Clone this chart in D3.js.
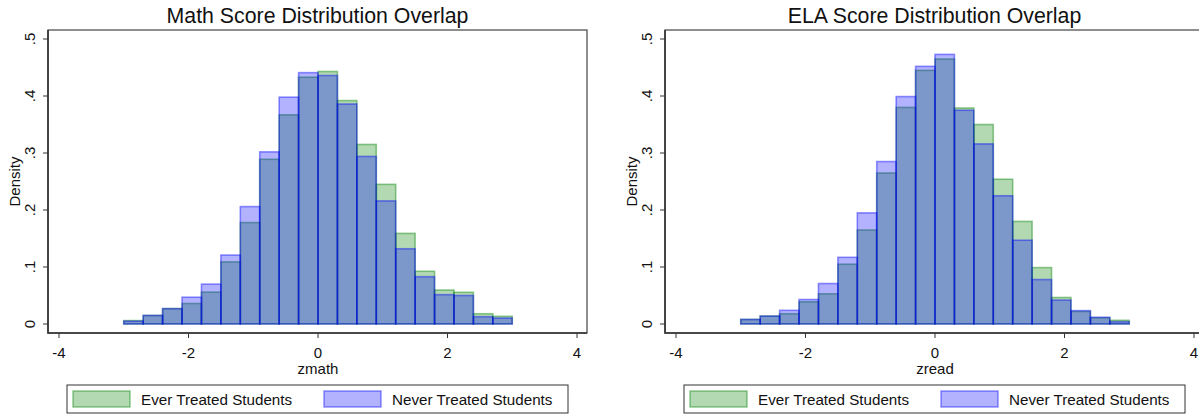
<!DOCTYPE html>
<html>
<head>
<meta charset="utf-8">
<script src="https://cdn.jsdelivr.net/npm/d3@7"></script>
<style>
  html, body { margin: 0; padding: 0; background: #fff; }
  svg { display: block; font-family: 'Liberation Sans', Arial, sans-serif; }
</style>
</head>
<body>
<svg id="chart" width="1199" height="416"></svg>
<script>
// bin lower edges (width 0.3), shared by both panels
const binLo = [-3, -2.7, -2.4, -2.1, -1.8, -1.5, -1.2, -0.9, -0.6, -0.3,
  0, 0.3, 0.6, 0.9, 1.2, 1.5, 1.8, 2.1, 2.4, 2.7]
const binWidth = 0.3

const mathEver = [0.006, 0.015, 0.027, 0.036, 0.056, 0.109, 0.178, 0.289, 0.367, 0.433,
  0.443, 0.392, 0.315, 0.245, 0.159, 0.0925, 0.0596, 0.0556, 0.018, 0.0135]
const mathNever = [0.005, 0.015, 0.027, 0.047, 0.070, 0.121, 0.206, 0.302, 0.398, 0.441,
  0.436, 0.386, 0.294, 0.216, 0.132, 0.083, 0.0515, 0.050, 0.0128, 0.0105]

const readEver = [0.008, 0.014, 0.018, 0.039, 0.053, 0.105, 0.165, 0.265, 0.380, 0.445,
  0.465, 0.379, 0.350, 0.254, 0.180, 0.099, 0.0465, 0.022, 0.011, 0.0065]
const readNever = [0.008, 0.014, 0.024, 0.043, 0.071, 0.117, 0.195, 0.285, 0.399, 0.452,
  0.473, 0.375, 0.316, 0.225, 0.147, 0.078, 0.042, 0.0235, 0.0118, 0.004]

const xTicks = [-4, -2, 0, 2, 4]
const yTicks = [0, 0.1, 0.2, 0.3, 0.4, 0.5]
const yTickLabels = ['0', '.1', '.2', '.3', '.4', '.5']
const seriesNames = ['Ever Treated Students', 'Never Treated Students']
const seriesColors = ['rgb(0,128,0)', 'rgb(0,0,255)']

const panels = [
  { title: 'Math Score Distribution Overlap', xLabel: 'zmath', ever: mathEver, never: mathNever, dx: 0 },
  { title: 'ELA Score Distribution Overlap', xLabel: 'zread', ever: readEver, never: readNever, dx: 617 },
]

const svg = d3.select('#chart')
const frame = { left: 48, right: 587, top: 30, bottom: 333 }

function drawPanel (p) {
  const g = svg.append('g').attr('transform', 'translate(' + p.dx + ',0)')

  const x = d3.scaleLinear().domain([-4, 4]).range([59, 577])
  const y = d3.scaleLinear().domain([0, 0.5]).range([324, 39])

  // title
  g.append('text')
    .attr('x', (frame.left + frame.right) / 2)
    .attr('y', 23)
    .attr('text-anchor', 'middle')
    .style('font-size', '21.3px')
    .attr('fill', '#111')
    .text(p.title)

  // bars: ever first, never on top
  const series = [p.ever, p.never]
  series.forEach(function (vals, si) {
    g.append('g').selectAll('rect')
      .data(vals.map(function (v, i) { return { lo: binLo[i], v: v } }))
      .enter().append('rect')
        .attr('x', function (d) { return x(d.lo) })
        .attr('width', function (d) { return x(d.lo + binWidth) - x(d.lo) })
        .attr('y', function (d) { return y(d.v) })
        .attr('height', function (d) { return y(0) - y(d.v) })
        .attr('fill', seriesColors[si])
        .attr('fill-opacity', 0.3)
        .attr('stroke', seriesColors[si])
        .attr('stroke-opacity', 0.42)
        .attr('stroke-width', 1.6)
  })

  // plot region frame
  g.append('rect')
    .attr('x', frame.left)
    .attr('y', frame.top)
    .attr('width', frame.right - frame.left)
    .attr('height', frame.bottom - frame.top)
    .attr('fill', 'none')
    .attr('stroke', '#444')
    .attr('stroke-width', 1.2)
  // axis lines a bit heavier
  g.append('path')
    .attr('d', 'M' + frame.left + ',' + frame.top + 'V' + frame.bottom + 'H' + frame.right)
    .attr('fill', 'none')
    .attr('stroke', '#333')
    .attr('stroke-width', 1.6)

  // x axis ticks
  const xt = g.append('g').selectAll('g.xt').data(xTicks).enter().append('g')
  xt.append('line')
    .attr('x1', function (d) { return x(d) }).attr('x2', function (d) { return x(d) })
    .attr('y1', frame.bottom).attr('y2', frame.bottom + 5)
    .attr('stroke', '#333').attr('stroke-width', 1)
  xt.append('text')
    .attr('x', function (d) { return x(d) })
    .attr('y', 358)
    .attr('text-anchor', 'middle')
    .style('font-size', '15px')
    .attr('fill', '#111')
    .text(function (d) { return d })

  g.append('text')
    .attr('x', x(0))
    .attr('y', 374)
    .attr('text-anchor', 'middle')
    .style('font-size', '15px')
    .attr('fill', '#111')
    .text(p.xLabel)

  // y axis ticks
  const yt = g.append('g').selectAll('g.yt').data(yTicks).enter().append('g')
  yt.append('line')
    .attr('x1', frame.left - 5).attr('x2', frame.left)
    .attr('y1', function (d) { return y(d) }).attr('y2', function (d) { return y(d) })
    .attr('stroke', '#333').attr('stroke-width', 1)
  yt.append('text')
    .attr('transform', function (d) { return 'translate(35,' + y(d) + ') rotate(-90)' })
    .attr('text-anchor', 'middle')
    .style('font-size', '15px')
    .attr('fill', '#111')
    .text(function (d, i) { return yTickLabels[i] })

  g.append('text')
    .attr('transform', 'translate(19.5,' + y(0.25) + ') rotate(-90)')
    .attr('text-anchor', 'middle')
    .style('font-size', '15px')
    .attr('fill', '#111')
    .text('Density')

  // legend
  const lg = g.append('g')
  lg.append('rect')
    .attr('x', 67).attr('y', 385).attr('width', 501).attr('height', 28)
    .attr('fill', '#fff').attr('stroke', '#333').attr('stroke-width', 1)
  const swX = [73, 324]
  seriesNames.forEach(function (name, i) {
    lg.append('rect')
      .attr('x', swX[i]).attr('y', 391).attr('width', 57).attr('height', 16)
      .attr('fill', seriesColors[i]).attr('fill-opacity', 0.3)
      .attr('stroke', seriesColors[i]).attr('stroke-opacity', 0.42).attr('stroke-width', 1.5)
    lg.append('text')
      .attr('x', swX[i] + 68).attr('y', 404.5)
      .style('font-size', '15.2px')
      .attr('fill', '#111')
      .text(name)
  })
}

panels.forEach(drawPanel)
</script>
</body>
</html>
